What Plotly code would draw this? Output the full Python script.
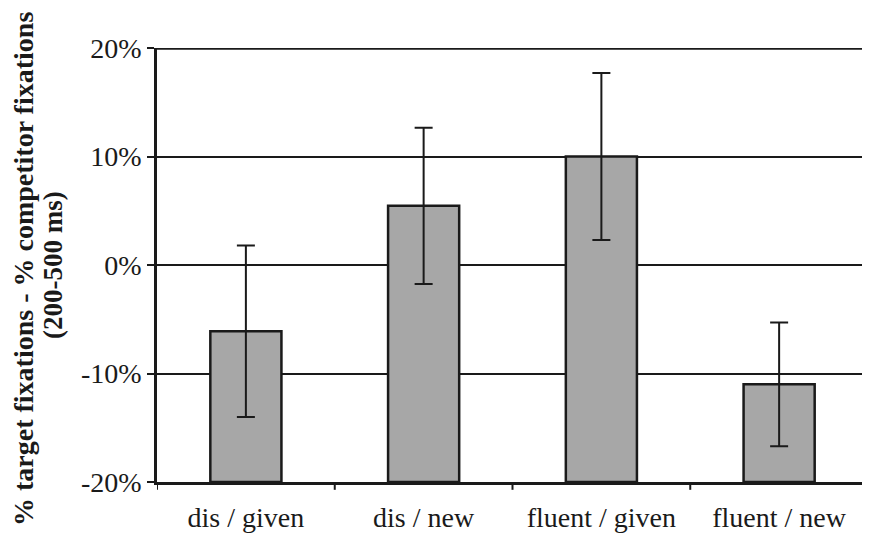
import plotly.graph_objects as go

categories = ["dis / given", "dis / new", "fluent / given", "fluent / new"]
values = [-6.1, 5.45, 10.0, -11.0]          # percent
errors = [7.9, 7.2, 7.7, 5.7]               # percent (symmetric)
tick_vals = [-20, -10, 0, 10, 20]
tick_text = ["-20%", "-10%", "0%", "10%", "20%"]
axis_base = -20
title_line1 = "% target fixations - % competitor fixations"
title_line2 = "(200-500 ms)"

font_family = "Liberation Serif"
ink = "#1a1a1a"

fig = go.Figure()
fig.add_trace(go.Bar(
    x=categories,
    y=[v - axis_base for v in values],
    base=axis_base,
    marker=dict(color="#a7a7a7", line=dict(color=ink, width=2.5)),
    width=0.4,
    hoverinfo="skip",
))
fig.add_trace(go.Scatter(
    x=categories,
    y=values,
    mode="markers",
    marker=dict(size=1, color="rgba(0,0,0,0)"),
    error_y=dict(type="data", array=errors, visible=True,
                 color=ink, thickness=2, width=9),
    hoverinfo="skip",
))

fig.update_layout(
    width=862, height=527,
    margin=dict(l=149, r=2, t=40, b=49),
    paper_bgcolor="white", plot_bgcolor="white",
    showlegend=False,
    font=dict(family=font_family, color=ink, size=28),
)
fig.update_xaxes(
    type="category",
    range=[-0.5, 3.5],
    showline=True, linecolor=ink, linewidth=3,
    showgrid=False,
    ticks="",
    tickfont=dict(size=28, family=font_family, color=ink),
    ticklabelstandoff=8,
)
# category separator tick marks
for i in range(5):
    fig.add_shape(type="line", xref="x", yref="paper",
                  x0=i - 0.5, x1=i - 0.5, y0=0, y1=-0.018,
                  line=dict(color=ink, width=2))
# thin right border
fig.add_shape(type="line", xref="paper", yref="paper", x0=1, x1=1, y0=0, y1=1,
              line=dict(color="#333333", width=1))
fig.update_yaxes(
    range=[-20, 20],
    tickvals=tick_vals, ticktext=tick_text,
    showgrid=True, gridcolor=ink, gridwidth=2,
    zeroline=False,
    showline=True, linecolor=ink, linewidth=2.5,
    ticks="outside", ticklen=7, tickwidth=2, tickcolor=ink,
    tickfont=dict(size=28, family=font_family, color=ink),
)
# thicker top line at 20%
fig.add_shape(type="line", xref="paper", yref="y", x0=0, x1=1, y0=20, y1=20,
              line=dict(color=ink, width=3.5))

# y-axis title as two rotated lines
fig.add_annotation(text="<b>" + title_line1 + "</b>", xref="paper", yref="paper",
                   x=0, y=0.5, xanchor="center", yanchor="middle",
                   xshift=-134, yshift=-4, textangle=-90, showarrow=False,
                   font=dict(size=28, family=font_family, color=ink))
fig.add_annotation(text="<b>" + title_line2 + "</b>", xref="paper", yref="paper",
                   x=0, y=0.5, xanchor="center", yanchor="middle",
                   xshift=-104, textangle=-90, showarrow=False,
                   font=dict(size=27, family=font_family, color=ink))

fig.write_html("out.html")
